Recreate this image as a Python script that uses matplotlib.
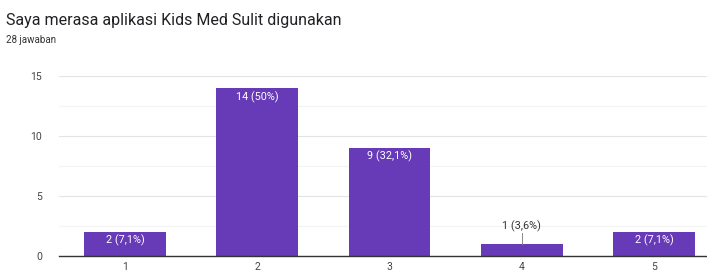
import matplotlib
matplotlib.use("Agg")
from matplotlib import pyplot as plt
import numpy as np

categories = ["1", "2", "3", "4", "5"]
counts = [2, 14, 9, 1, 2]
labels = ["2 (7,1%)", "14 (50%)", "9 (32,1%)", "1 (3,6%)", "2 (7,1%)"]

title = "Saya merasa aplikasi Kids Med Sulit digunakan"
subtitle = "28 jawaban"

purple = "#673ab7"

plt.rcParams["font.family"] = ["Roboto", "DejaVu Sans"]

fig = plt.figure(figsize=(7.07, 2.78), dpi=100)
ax = fig.add_axes([59 / 707, 22 / 278, 661 / 707, 180 / 278])

x = np.arange(len(categories))
ax.bar(x, counts, width=0.62, color=purple, zorder=3)

ax.set_xlim(-0.5, len(categories) - 0.5)
ax.set_ylim(0, 15)
ax.set_yticks([0, 5, 10, 15])
ax.set_yticks([2.5, 7.5, 12.5], minor=True)
ax.set_xticks(x)
ax.set_xticklabels(categories)

ax.grid(axis="y", which="major", color="#e3e3e3", linewidth=0.8, zorder=0)
ax.grid(axis="y", which="minor", color="#f3f3f3", linewidth=0.8, zorder=0)
ax.tick_params(axis="both", which="both", length=0, labelsize=7.5, colors="#444444")
ax.tick_params(axis="y", pad=12)
ax.tick_params(axis="x", pad=4)
for s in ["top", "right", "left"]:
    ax.spines[s].set_visible(False)
ax.spines["bottom"].set_color("#333333")
ax.spines["bottom"].set_linewidth(1.0)
ax.spines["bottom"].set_zorder(4)

for xi, c, lab in zip(x, counts, labels):
    if c >= 2:
        ax.text(xi, c - 0.25, lab, ha="center", va="top", color="white",
                fontsize=7.8, zorder=5)
    else:
        # small bar: label sits above with a tick line
        ax.plot([xi, xi], [c, c + 0.9], color="#888888", lw=0.7, zorder=4)
        ax.text(xi, c + 1.0, lab, ha="center", va="bottom", color="#333333",
                fontsize=7.8, zorder=5)

fig.text(6 / 707, 1 - 20 / 278, title, fontsize=11.5, color="#202124", va="center")
fig.text(6 / 707, 1 - 40 / 278, subtitle, fontsize=7, color="#333333", va="center")

fig.savefig("out.png", dpi=100)
